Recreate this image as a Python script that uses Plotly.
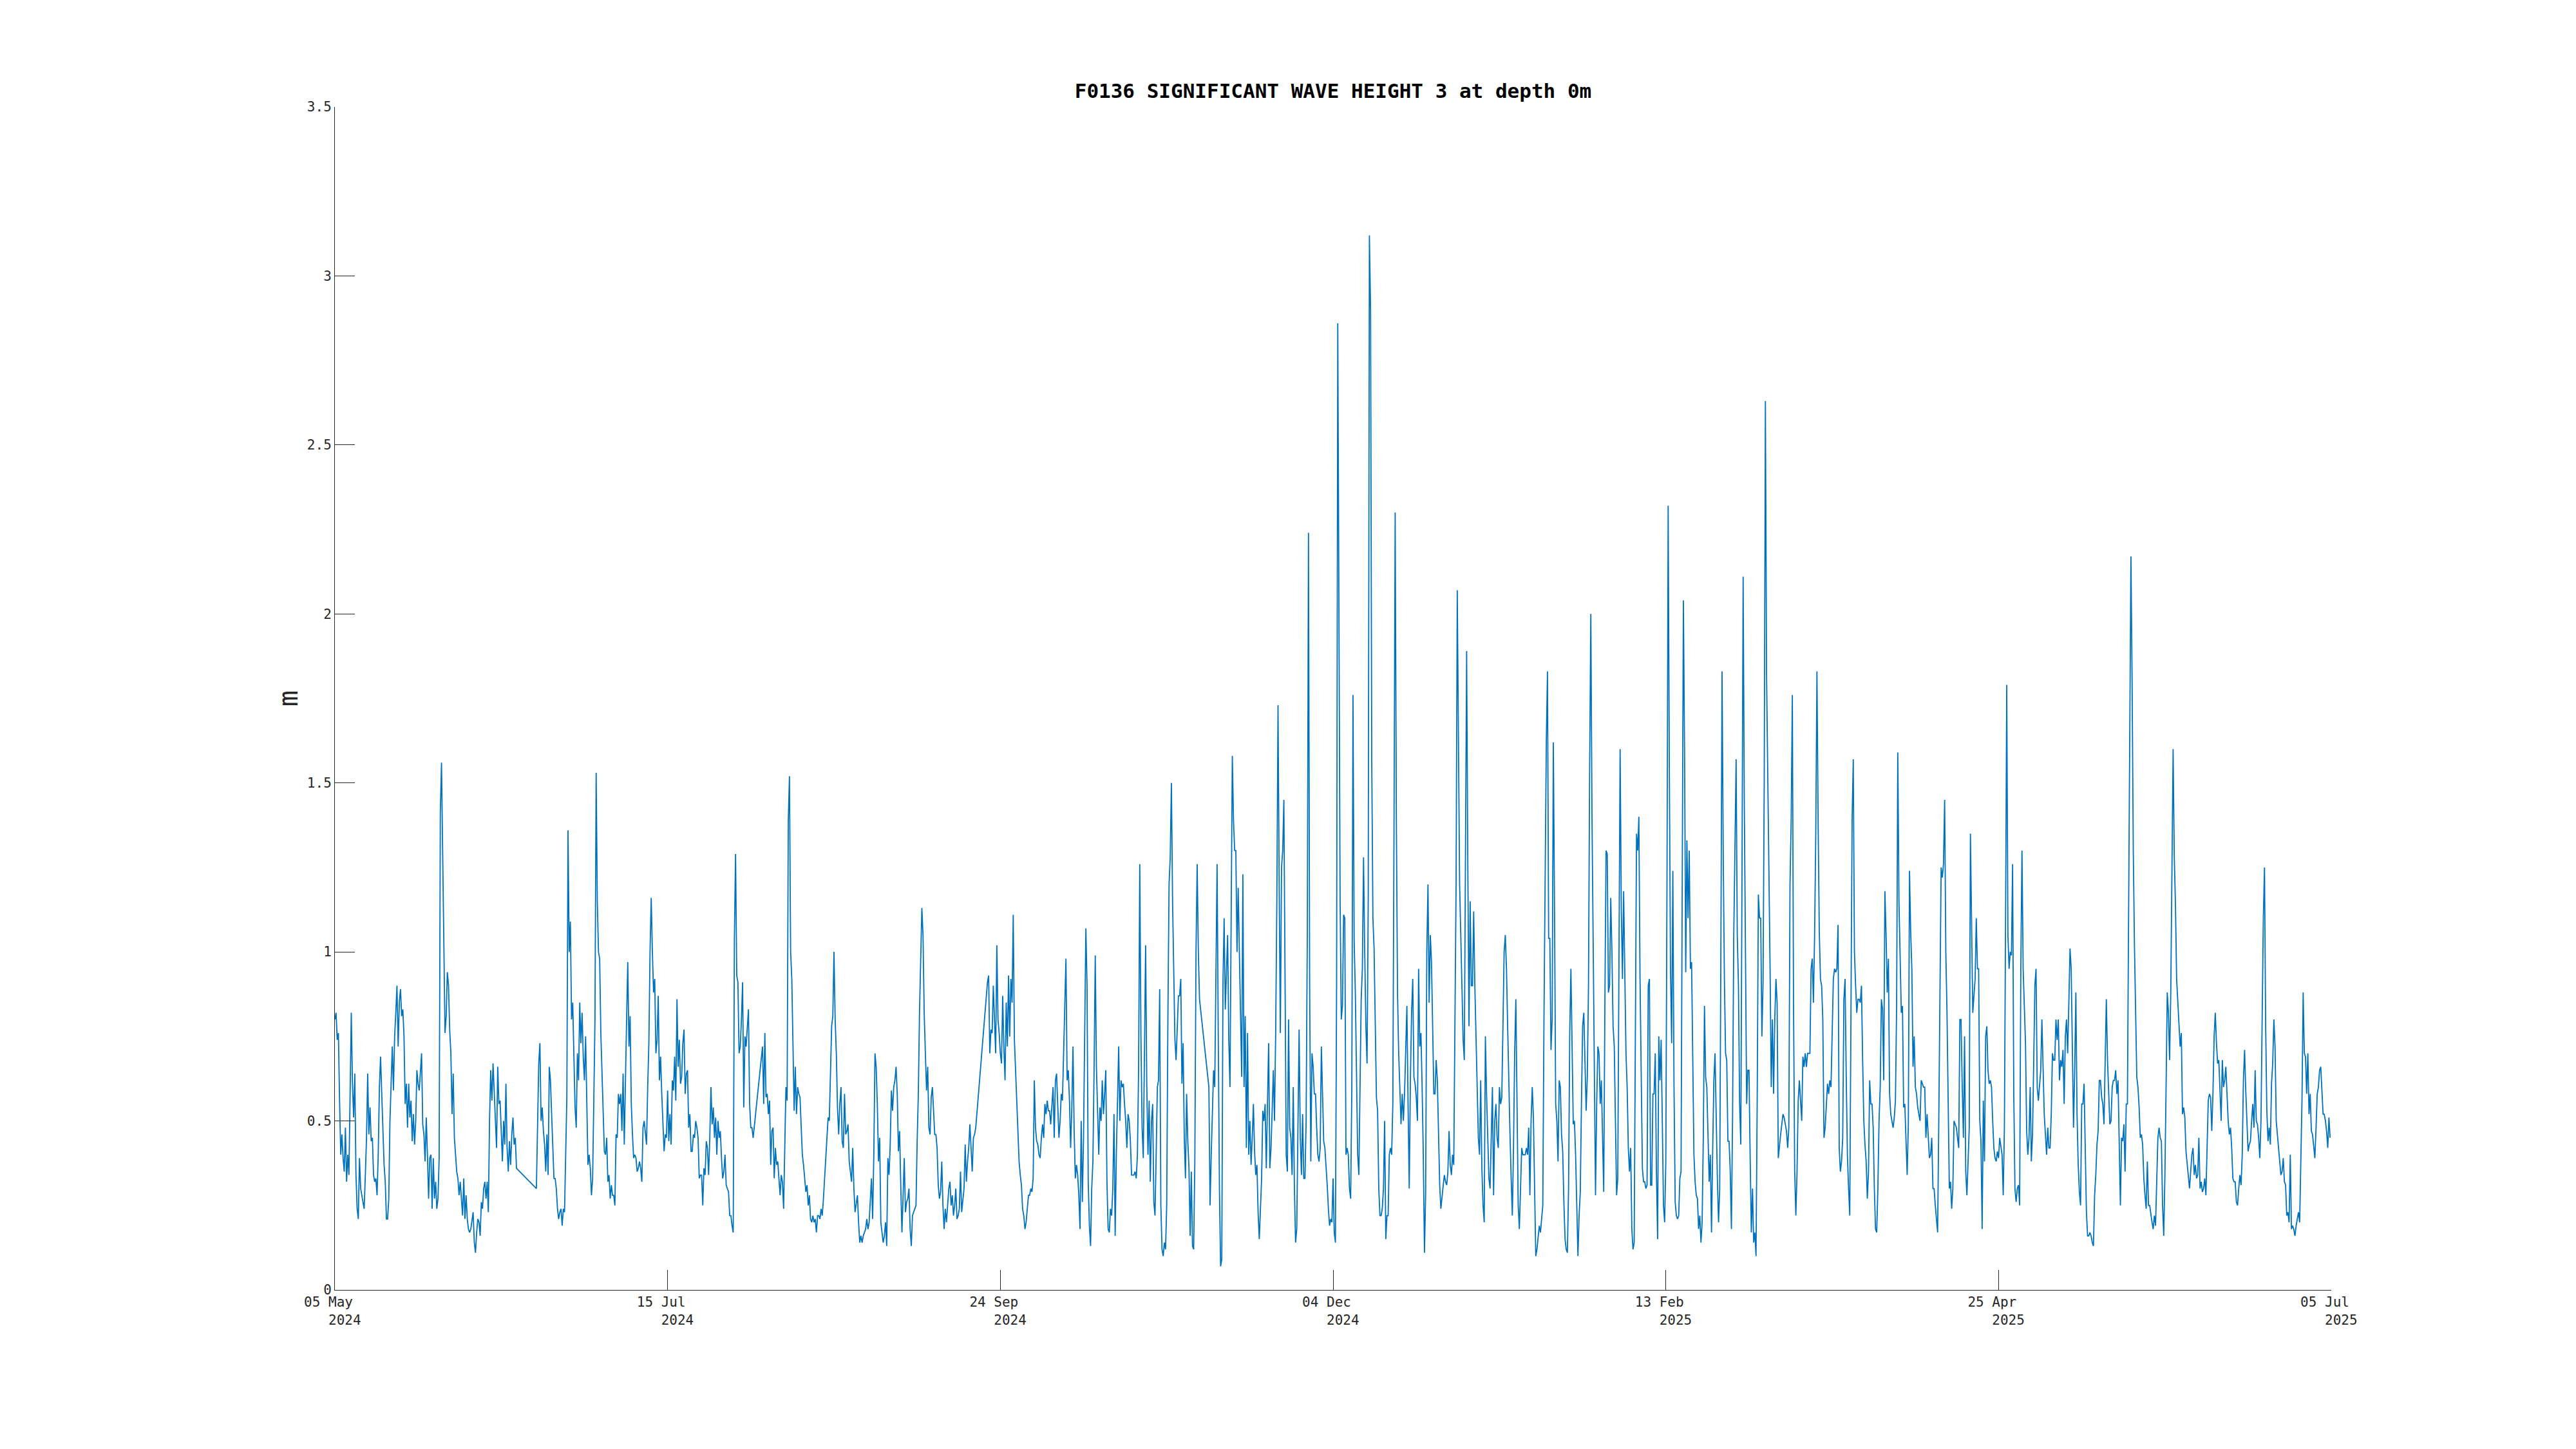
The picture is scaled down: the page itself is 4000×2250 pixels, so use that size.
import pandas as pd
import plotly.graph_objects as go

N = None  # missing samples (the original draws a straight line across them)

start_time = "2024-05-05 00:00"
sample_step = "6h"

# Significant wave height (m), one value per 6 hours
hs_part1 = [
    0.80, 0.82, 0.74, 0.76, 0.56, 0.40, 0.46, 0.39, 0.35, 0.48, 0.32, 0.40, 0.34, 0.56, 0.82, 0.61, 0.51, 0.64, 0.34, 0.24,
    0.21, 0.39, 0.30, 0.28, 0.26, 0.24, 0.34, 0.45, 0.64, 0.46, 0.54, 0.44, 0.45, 0.34, 0.32, 0.33, 0.28, 0.40, 0.60, 0.69,
    0.58, 0.46, 0.37, 0.32, 0.21, 0.21, 0.27, 0.50, 0.60, 0.72, 0.59, 0.75, 0.82, 0.90, 0.72, 0.85, 0.89, 0.81, 0.83, 0.75,
    0.55, 0.61, 0.48, 0.61, 0.51, 0.56, 0.44, 0.52, 0.43, 0.50, 0.65, 0.61, 0.59, 0.64, 0.70, 0.49, 0.46, 0.38, 0.51, 0.40,
    0.27, 0.39, 0.40, 0.24, 0.39, 0.27, 0.32, 0.24, 0.27, 0.39, 1.41, 1.56, 1.30, 1.00, 0.76, 0.81, 0.94, 0.90, 0.77, 0.70,
    0.52, 0.64, 0.45, 0.40, 0.35, 0.33, 0.28, 0.32, 0.27, 0.22, 0.33, 0.21, 0.28, 0.21, 0.18, 0.17, 0.18, 0.21, 0.23, 0.14,
    0.11, 0.17, 0.21, 0.20, 0.16, 0.26, 0.24, 0.30, 0.32, 0.27, 0.32, 0.23, 0.50, 0.65, 0.56, 0.67, 0.59, 0.52, 0.42, 0.66,
    0.55, 0.56, 0.46, 0.38, 0.50, 0.43, 0.61, 0.42, 0.35, 0.44, 0.37, 0.46, 0.51, 0.43, 0.45, 0.36, N, N, N, N,
    N, N, N, N, N, N, N, N, N, N, N, N, 0.30, 0.52, 0.67, 0.73, 0.50, 0.54, 0.47, 0.43,
    0.35, 0.46, 0.34, 0.66, 0.62, 0.52, 0.44, 0.33, 0.33, 0.30, 0.24, 0.21, 0.23, 0.24, 0.19, 0.24, 0.23, 0.40, 0.57, 1.36,
    1.00, 1.09, 0.80, 0.85, 0.71, 0.54, 0.48, 0.70, 0.62, 0.85, 0.73, 0.82, 0.69, 0.62, 0.75, 0.52, 0.37, 0.40, 0.36, 0.28,
    0.33, 0.56, 0.80, 1.53, 1.15, 1.00, 0.98, 0.76, 0.63, 0.55, 0.41, 0.40, 0.45, 0.32, 0.34, 0.27, 0.31, 0.28, 0.28, 0.25,
    0.46, 0.45, 0.58, 0.55, 0.58, 0.47, 0.64, 0.43, 0.66, 0.80, 0.97, 0.72, 0.81, 0.55, 0.46, 0.39, 0.40, 0.39, 0.35, 0.36,
    0.38, 0.36, 0.32, 0.48, 0.50, 0.46, 0.43, 0.60, 0.73, 1.00, 1.16, 1.00, 0.88, 0.92, 0.70, 0.74, 0.87, 0.62, 0.69, 0.58,
    0.50, 0.41, 0.46, 0.45, 0.59, 0.44, 0.52, 0.43, 0.62, 0.59, 0.69, 0.56, 0.86, 0.66, 0.74, 0.61, 0.63, 0.73, 0.77, 0.58,
]
hs_part2 = [
    0.64, 0.65, 0.48, 0.52, 0.41, 0.41, 0.46, 0.45, 0.50, 0.48, 0.45, 0.33, 0.34, 0.34, 0.25, 0.36, 0.34, 0.44, 0.42, 0.34,
    0.45, 0.60, 0.49, 0.54, 0.45, 0.51, 0.40, 0.50, 0.45, 0.47, 0.39, 0.33, 0.35, 0.40, 0.31, 0.30, 0.29, 0.22, 0.22, 0.19,
    0.17, 1.04, 1.29, 0.93, 0.91, 0.70, 0.72, 0.80, 0.91, 0.54, 0.75, 0.72, 0.78, 0.83, 0.55, 0.48, 0.48, 0.45, N, N,
    N, N, N, N, N, 0.72, 0.55, 0.76, 0.57, 0.58, 0.52, 0.56, 0.37, 0.47, 0.48, 0.33, 0.42, 0.37, 0.38, 0.33,
    0.28, 0.34, 0.32, 0.24, 0.42, 0.60, 0.56, 1.39, 1.52, 1.00, 0.92, 0.75, 0.53, 0.66, 0.52, 0.60, 0.58, 0.57, 0.48, 0.40,
    0.37, 0.33, 0.29, 0.31, 0.25, 0.28, 0.21, 0.20, 0.22, 0.20, 0.21, 0.17, 0.22, 0.22, 0.21, 0.24, 0.22, 0.27, 0.33, 0.38,
    0.46, 0.51, 0.50, 0.64, 0.78, 0.81, 1.00, 0.80, 0.70, 0.54, 0.46, 0.55, 0.60, 0.44, 0.42, 0.58, 0.46, 0.47, 0.49, 0.38,
    0.35, 0.32, 0.42, 0.30, 0.23, 0.26, 0.28, 0.20, 0.14, 0.16, 0.14, 0.16, 0.17, 0.18, 0.21, 0.18, 0.20, 0.26, 0.33, 0.21,
    0.40, 0.70, 0.66, 0.55, 0.38, 0.45, 0.20, 0.17, 0.14, 0.16, 0.20, 0.13, 0.39, 0.34, 0.43, 0.59, 0.53, 0.60, 0.62, 0.66,
    0.58, 0.41, 0.47, 0.31, 0.17, 0.28, 0.39, 0.23, 0.26, 0.27, 0.30, 0.18, 0.13, 0.22, 0.23, 0.24, 0.25, 0.44, 0.58, 0.82,
    0.95, 1.13, 1.05, 0.82, 0.70, 0.59, 0.66, 0.48, 0.46, 0.57, 0.60, 0.52, 0.46, 0.46, 0.42, 0.31, 0.27, 0.29, 0.38, 0.25,
    0.18, 0.24, 0.20, 0.25, 0.30, 0.32, 0.25, 0.28, 0.22, 0.25, 0.30, 0.21, 0.22, 0.24, 0.35, 0.23, 0.27, 0.30, 0.43, 0.32,
    0.38, 0.42, 0.49, 0.42, 0.35, 0.45, 0.46, 0.48, N, N, N, N, N, N, N, N, N, 0.91, 0.93, 0.70,
    0.77, 0.76, 0.90, 0.80, 0.70, 1.02, 0.80, 0.76, 0.70, 0.67, 0.87, 0.72, 0.62, 0.85, 0.72, 0.93, 0.75, 0.92, 0.85, 1.11,
    0.74, 0.65, 0.55, 0.44, 0.38, 0.34, 0.31, 0.24, 0.22, 0.18, 0.20, 0.24, 0.28, 0.28, 0.30, 0.29, 0.33, 0.62, 0.48, 0.44,
]
hs_part3 = [
    0.43, 0.40, 0.39, 0.45, 0.49, 0.45, 0.55, 0.52, 0.56, 0.53, 0.53, 0.49, 0.55, 0.60, 0.45, 0.62, 0.64, 0.53, 0.45, 0.50,
    0.58, 0.56, 0.72, 0.88, 0.98, 0.62, 0.65, 0.56, 0.42, 0.54, 0.72, 0.47, 0.33, 0.37, 0.34, 0.28, 0.18, 0.50, 0.26, 0.45,
    0.73, 1.07, 0.90, 0.32, 0.19, 0.13, 0.30, 0.38, 0.65, 0.99, 0.66, 0.52, 0.40, 0.54, 0.50, 0.62, 0.52, 0.58, 0.65, 0.32,
    0.18, 0.17, 0.24, 0.22, 0.30, 0.52, 0.16, 0.40, 0.60, 0.72, 0.50, 0.62, 0.60, 0.61, 0.55, 0.50, 0.42, 0.52, 0.50, 0.44,
    0.34, 0.34, 0.34, 0.35, 0.33, 0.40, 0.65, 1.26, 0.75, 0.48, 0.39, 0.70, 1.02, 0.60, 0.40, 0.56, 0.32, 0.50, 0.55, 0.26,
    0.22, 0.40, 0.60, 0.62, 0.89, 0.25, 0.12, 0.10, 0.14, 0.12, 0.25, 0.80, 1.20, 1.28, 1.50, 1.15, 0.95, 0.74, 0.68, 0.78,
    0.87, 0.87, 0.92, 0.61, 0.73, 0.45, 0.33, 0.58, 0.44, 0.36, 0.16, 0.35, 0.13, 0.12, 0.38, 1.00, 1.26, 1.00, 0.86, N,
    N, N, N, N, N, N, 0.60, 0.25, 0.40, 0.55, 0.65, 0.60, 0.90, 1.26, 0.75, 0.30, 0.07, 0.09, 0.90, 1.10,
    0.83, 0.95, 1.05, 0.74, 0.60, 1.10, 1.58, 1.39, 1.30, 1.30, 1.00, 1.19, 0.98, 0.77, 0.63, 1.23, 0.60, 0.81, 0.42, 0.76,
    0.40, 0.50, 0.37, 0.45, 0.55, 0.41, 0.34, 0.37, 0.23, 0.15, 0.25, 0.33, 0.53, 0.50, 0.55, 0.36, 0.55, 0.73, 0.36, 0.42,
    0.53, 0.65, 0.50, 0.76, 1.15, 1.73, 1.20, 0.76, 1.25, 1.30, 1.45, 0.85, 0.40, 0.35, 0.80, 0.48, 0.45, 0.34, 0.60, 0.30,
    0.14, 0.18, 0.50, 0.77, 0.45, 0.34, 0.52, 0.33, 0.33, 0.50, 1.05, 2.24, 0.90, 0.38, 0.70, 0.66, 0.58, 0.58, 0.48, 0.40,
    0.38, 0.42, 0.72, 0.55, 0.44, 0.42, 0.37, 0.31, 0.24, 0.19, 0.21, 0.20, 0.33, 0.17, 0.14, 0.90, 2.86, 1.90, 1.15, 0.80,
    0.84, 1.11, 1.10, 0.40, 0.42, 0.40, 0.30, 0.27, 0.60, 1.76, 1.03, 0.88, 0.62, 0.40, 0.34, 0.65, 0.86, 0.95, 1.28, 1.00,
    0.78, 0.67, 1.15, 3.12, 2.90, 1.57, 1.10, 1.01, 0.80, 0.57, 0.53, 0.30, 0.22, 0.22, 0.24, 0.30, 0.50, 0.15, 0.22, 0.22,
]
hs_part4 = [
    0.40, 0.42, 0.40, 0.55, 1.36, 2.30, 1.40, 0.88, 0.70, 0.61, 0.49, 0.58, 0.50, 0.58, 0.70, 0.84, 0.55, 0.30, 0.62, 0.82,
    0.92, 0.63, 0.61, 0.57, 0.50, 0.95, 0.72, 0.76, 0.60, 0.40, 0.11, 0.28, 1.00, 1.20, 0.85, 1.05, 0.97, 0.74, 0.58, 0.58,
    0.68, 0.62, 0.44, 0.31, 0.24, 0.28, 0.31, 0.34, 0.32, 0.31, 0.35, 0.47, 0.37, 0.34, 0.40, 0.37, 0.80, 1.20, 2.07, 1.65,
    1.20, 1.05, 0.88, 0.74, 0.68, 1.25, 1.89, 1.26, 0.78, 1.15, 0.90, 0.90, 1.12, 0.90, 0.75, 0.63, 0.45, 0.40, 0.62, 0.36,
    0.25, 0.20, 0.75, 0.58, 0.44, 0.33, 0.30, 0.45, 0.60, 0.28, 0.50, 0.55, 0.45, 0.42, 0.60, 0.55, 0.57, 0.78, 1.00, 1.05,
    0.95, 0.78, 0.58, 0.46, 0.33, 0.22, 0.42, 0.70, 0.86, 0.55, 0.25, 0.18, 0.30, 0.42, 0.40, 0.40, 0.40, 0.42, 0.40, 0.48,
    0.28, 0.50, 0.60, 0.51, 0.34, 0.10, 0.12, 0.15, 0.19, 0.17, 0.22, 0.25, 0.80, 1.21, 1.62, 1.83, 1.04, 1.04, 0.71, 0.80,
    1.62, 1.13, 0.55, 0.50, 0.38, 0.62, 0.60, 0.46, 0.41, 0.26, 0.15, 0.12, 0.11, 0.30, 0.76, 0.95, 0.70, 0.49, 0.50, 0.40,
    0.25, 0.10, 0.22, 0.29, 0.55, 0.78, 0.82, 0.69, 0.53, 0.63, 0.90, 1.55, 2.00, 1.40, 1.05, 0.60, 0.28, 0.55, 0.72, 0.70,
    0.55, 0.62, 0.47, 0.29, 0.85, 1.30, 1.29, 0.88, 0.90, 1.16, 1.00, 0.78, 0.72, 0.50, 0.28, 0.33, 1.10, 1.60, 1.13, 0.92,
    1.18, 0.92, 0.70, 0.60, 0.42, 0.35, 0.42, 0.18, 0.12, 0.14, 0.85, 1.35, 1.30, 1.40, 0.92, 0.63, 0.36, 0.32, 0.32, 0.30,
    0.31, 0.90, 0.92, 0.31, 0.31, 0.58, 0.58, 0.70, 0.35, 0.15, 0.75, 0.62, 0.74, 0.50, 0.25, 0.20, 0.38, 1.20, 2.32, 1.55,
    0.95, 0.73, 1.24, 0.60, 0.26, 0.22, 0.21, 0.22, 0.33, 0.35, 1.20, 2.04, 1.60, 0.94, 1.33, 1.10, 1.30, 0.95, 0.97, 0.62,
    0.40, 0.32, 0.28, 0.27, 0.18, 0.22, 0.14, 0.20, 0.45, 0.84, 0.63, 0.60, 0.43, 0.32, 0.40, 0.17, 0.41, 0.62, 0.70, 0.47,
    0.33, 0.20, 0.30, 1.00, 1.83, 1.30, 0.92, 0.70, 0.68, 0.44, 0.44, 0.35, 0.18, 0.52, 1.05, 1.30, 1.57, 1.05, 0.90, 0.55,
]
hs_part5 = [
    0.43, 1.20, 2.11, 1.44, 0.88, 0.55, 0.65, 0.65, 0.39, 0.17, 0.30, 0.14, 0.17, 0.10, 0.56, 1.17, 1.10, 1.10, 0.75, 0.91,
    1.50, 2.63, 1.82, 1.55, 1.20, 0.95, 0.60, 0.80, 0.58, 0.80, 0.92, 0.85, 0.39, 0.43, 0.46, 0.49, 0.52, 0.51, 0.49, 0.47,
    0.42, 0.48, 1.20, 1.39, 1.76, 0.85, 0.35, 0.22, 0.35, 0.56, 0.62, 0.55, 0.50, 0.69, 0.66, 0.70, 0.66, 0.70, 0.70, 0.70,
    0.95, 0.98, 0.85, 1.05, 1.35, 1.83, 1.39, 1.06, 0.92, 0.90, 0.80, 0.45, 0.48, 0.56, 0.61, 0.58, 0.62, 0.60, 0.74, 0.92,
    0.95, 0.94, 0.95, 1.08, 0.42, 0.35, 0.38, 0.45, 0.86, 0.92, 0.63, 0.40, 0.30, 0.22, 0.80, 1.39, 1.57, 1.00, 0.90, 0.82,
    0.86, 0.86, 0.85, 0.90, 0.68, 0.50, 0.43, 0.38, 0.27, 0.35, 0.62, 0.55, 0.55, 0.48, 0.30, 0.18, 0.17, 0.30, 0.50, 0.60,
    0.86, 0.83, 0.62, 1.18, 1.05, 0.88, 0.98, 0.58, 0.52, 0.50, 0.48, 0.51, 0.56, 0.84, 1.59, 1.15, 0.95, 0.82, 0.84, 0.54,
    0.55, 0.45, 0.34, 0.49, 1.24, 1.06, 0.95, 0.66, 0.75, 0.60, 0.58, 0.54, 0.52, 0.50, 0.62, 0.61, 0.60, 0.60, 0.45, 0.52,
    0.45, 0.39, 0.40, 0.45, 0.30, 0.30, 0.25, 0.21, 0.17, 0.50, 0.88, 1.25, 1.22, 1.26, 1.45, 1.00, 0.82, 0.58, 0.30, 0.32,
    0.24, 0.30, 0.50, 0.49, 0.48, 0.45, 0.42, 0.80, 0.80, 0.60, 0.45, 0.75, 0.35, 0.28, 0.38, 0.48, 1.35, 1.10, 0.82, 0.87,
    0.92, 1.10, 0.95, 0.95, 0.50, 0.44, 0.18, 0.56, 0.38, 0.75, 0.78, 0.65, 0.61, 0.62, 0.60, 0.50, 0.42, 0.39, 0.38, 0.41,
    0.39, 0.45, 0.42, 0.40, 0.28, 0.48, 1.10, 1.79, 1.05, 0.95, 1.00, 0.99, 1.26, 0.58, 0.30, 0.26, 0.30, 0.31, 0.25, 0.95,
    1.30, 0.95, 0.84, 0.73, 0.47, 0.40, 0.45, 0.60, 0.38, 0.46, 0.67, 0.90, 0.95, 0.60, 0.56, 0.60, 0.65, 0.80, 0.68, 0.52,
    0.46, 0.40, 0.48, 0.42, 0.42, 0.52, 0.70, 0.68, 0.68, 0.80, 0.74, 0.80, 0.62, 0.68, 0.66, 0.71, 0.55, 0.75, 0.80, 0.70,
    0.85, 1.01, 0.95, 0.68, 0.48, 0.65, 0.88, 0.52, 0.37, 0.29, 0.25, 0.55, 0.55, 0.61, 0.40, 0.23, 0.16, 0.16, 0.17, 0.16,
]
hs_part6 = [
    0.14, 0.13, 0.28, 0.34, 0.43, 0.47, 0.62, 0.62, 0.57, 0.55, 0.49, 0.70, 0.86, 0.68, 0.59, 0.49, 0.50, 0.60, 0.62, 0.62,
    0.65, 0.58, 0.62, 0.42, 0.25, 0.45, 0.44, 0.49, 0.35, 0.55, 0.55, 1.11, 1.77, 2.17, 1.80, 1.30, 1.02, 0.80, 0.63, 0.60,
    0.54, 0.45, 0.46, 0.43, 0.33, 0.28, 0.24, 0.38, 0.25, 0.25, 0.22, 0.20, 0.18, 0.22, 0.19, 0.32, 0.45, 0.48, 0.45, 0.44,
    0.25, 0.16, 0.34, 0.60, 0.88, 0.82, 0.68, 0.88, 1.20, 1.60, 1.28, 1.14, 0.92, 0.86, 0.78, 0.72, 0.76, 0.52, 0.54, 0.51,
    0.41, 0.37, 0.33, 0.30, 0.35, 0.40, 0.42, 0.34, 0.37, 0.33, 0.34, 0.45, 0.30, 0.32, 0.29, 0.30, 0.33, 0.28, 0.42, 0.56,
    0.58, 0.57, 0.47, 0.58, 0.75, 0.82, 0.73, 0.67, 0.68, 0.58, 0.50, 0.68, 0.60, 0.62, 0.66, 0.58, 0.50, 0.46, 0.48, 0.42,
    0.33, 0.32, 0.32, 0.26, 0.25, 0.30, 0.34, 0.31, 0.40, 0.62, 0.71, 0.59, 0.48, 0.41, 0.43, 0.44, 0.50, 0.55, 0.48, 0.65,
    0.50, 0.49, 0.45, 0.39, 0.50, 0.76, 1.10, 1.25, 0.78, 0.53, 0.44, 0.48, 0.43, 0.61, 0.67, 0.80, 0.72, 0.50, 0.45, 0.42,
    0.38, 0.34, 0.35, 0.39, 0.32, 0.31, 0.22, 0.23, 0.20, 0.40, 0.18, 0.19, 0.18, 0.16, 0.19, 0.21, 0.23, 0.20, 0.40, 0.56,
    0.88, 0.70, 0.69, 0.58, 0.70, 0.52, 0.58, 0.47, 0.46, 0.42, 0.39, 0.48, 0.58, 0.60, 0.65, 0.66, 0.59, 0.52, 0.52, 0.50,
    0.47, 0.42, 0.51, 0.45,
]

tick_dates = ["2024-05-05", "2024-07-15", "2024-09-24", "2024-12-04", "2025-02-13", "2025-04-25", "2025-07-05"]
tick_day_month = ["05 May", "15 Jul", "24 Sep", "04 Dec", "13 Feb", "25 Apr", "05 Jul"]
tick_year = ["2024", "2024", "2024", "2024", "2025", "2025", "2025"]
y_tick_values = [0, 0.5, 1, 1.5, 2, 2.5, 3, 3.5]
y_tick_text = ["0", "0.5", "1", "1.5", "2", "2.5", "3", "3.5"]

title_text = "F0136 SIGNIFICANT WAVE HEIGHT 3 at depth 0m"
y_label = "m"

wave_height = hs_part1 + hs_part2 + hs_part3 + hs_part4 + hs_part5 + hs_part6
times = pd.date_range(start_time, periods=len(wave_height), freq=sample_step)

NB = "\u00a0"
x_tick_text = [f"{dm}<br>{NB * 4}{yr}" for dm, yr in zip(tick_day_month, tick_year)]

FONT = "DejaVu Sans Mono"
AX = "#262626"

fig = go.Figure(
    go.Scatter(
        x=times,
        y=wave_height,
        mode="lines",
        line=dict(color="#0072BD", width=1.8),
        connectgaps=True,
        hoverinfo="skip",
        showlegend=False,
    )
)

# the page body adds an 8px offset; margins compensate so the plot area sits at x 520-3620, y 166-2003
fig.update_layout(
    width=4000,
    height=2250,
    autosize=False,
    paper_bgcolor="white",
    plot_bgcolor="white",
    margin=dict(l=512, r=388, t=158, b=255, pad=0),
    showlegend=False,
    title=dict(
        text=f"<b>{title_text}</b>",
        x=0.5,
        xref="paper",
        xanchor="center",
        y=1 - 133 / 2250,
        yref="container",
        yanchor="middle",
        font=dict(family=FONT, size=31, color="black"),
    ),
)

fig.update_xaxes(
    type="date",
    range=[tick_dates[0], tick_dates[-1]],
    tickmode="array",
    tickvals=tick_dates,
    ticktext=x_tick_text,
    ticks="inside",
    ticklen=31,
    tickwidth=1,
    tickcolor=AX,
    showline=True,
    linecolor=AX,
    linewidth=1,
    mirror=False,
    showgrid=False,
    zeroline=False,
    tickfont=dict(family=FONT, size=21, color=AX),
    ticklabelshift=-10,
)

fig.update_yaxes(
    range=[0, 3.5],
    tickmode="array",
    tickvals=y_tick_values,
    ticktext=y_tick_text,
    ticks="inside",
    ticklen=31,
    tickwidth=1,
    tickcolor=AX,
    showline=True,
    linecolor=AX,
    linewidth=1,
    mirror=False,
    showgrid=False,
    zeroline=False,
    tickfont=dict(family=FONT, size=21, color=AX),
    title=dict(text=y_label, font=dict(family=FONT, size=42, color=AX), standoff=1),
)

fig.write_html("out.html", include_plotlyjs=True, config={"displayModeBar": False})
